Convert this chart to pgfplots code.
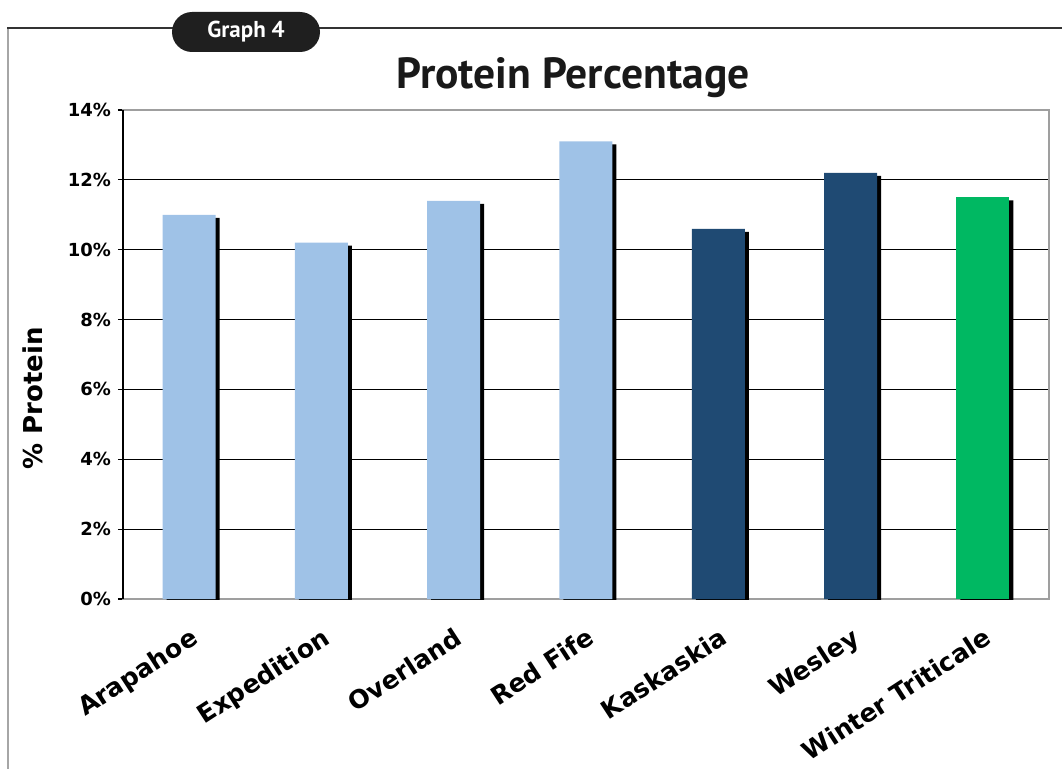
\documentclass[border=0pt]{standalone}
\usepackage{pgfplots}
\pgfplotsset{compat=1.18}
\usepackage{fontspec}
\setmainfont{DejaVu Sans}
\newfontfamily\titlefont{PT Sans}

\definecolor{lightbar}{HTML}{9FC2E7}
\definecolor{darkbar}{HTML}{1F4A73}
\definecolor{greenbar}{HTML}{00B862}

\begin{document}
\begin{tikzpicture}[x=1pt,y=1pt]
\useasboundingbox (0,0) rectangle (531,384);
% frame
\draw[gray!70, line width=0.8pt] (4,-2) -- (4,370);
\draw[black!80, line width=0.6pt] (3.6,370) -- (533,370);
\fill[black!88, rounded corners=10pt] (86,358) rectangle (160,378);
\node[text=white, font=\titlefont\bfseries\fontsize{11.5}{13}\selectfont] at (123,368) {Graph 4};
\node[text=black!90, font=\titlefont\bfseries\fontsize{21.8}{25}\selectfont] at (286.5,345) {Protein Percentage};

\begin{axis}[
    at={(61.5pt,84.5pt)}, anchor=south west,
    scale only axis,
    width=463pt, height=244.5pt,
    xmin=-0.5, xmax=6.5,
    ymin=0, ymax=14,
    ytick={0,2,...,14},
    yticklabel={\pgfmathprintnumber{\tick}\%},
    /pgf/number format/assume math mode=true,
    yticklabel style={font=\bfseries\fontsize{9}{10}\selectfont},
    xtick={0,...,6},
    xticklabels={Arapahoe,Expedition,Overland,Red Fife,Kaskaskia,Wesley,Winter Triticale},
    xticklabel style={font=\bfseries\fontsize{12.6}{14}\selectfont, rotate=33, anchor=north east, inner sep=0pt},
    xticklabel shift=11pt,
    major x tick style={draw=none},
    ytick pos=left, tick align=outside,
    major tick length=2.5pt,
    major y tick style={black, line width=0.6pt},
    ymajorgrids,
    major grid style={black, line width=0.6pt},
    axis line style={draw=gray!75, line width=0.8pt},
    ylabel={\% Protein},
    ylabel style={font=\bfseries\fontsize{13}{15}\selectfont, at={(axis description cs:-0.097,0.41)}, anchor=center},
    bar width=26.5pt,
    after end axis/.code={\draw[black, line width=0.7pt] (rel axis cs:0,0) -- (rel axis cs:0,1);},
]
% shadows
\addplot[ybar, bar shift=2pt, fill=black, draw=none, yshift=-1.5pt] coordinates {
    (0,11.0)(1,10.2)(2,11.4)(3,13.1)(4,10.6)(5,12.2)(6,11.5)};
\addplot[ybar, bar shift=0pt, fill=lightbar, draw=none] coordinates {
    (0,11.0)(1,10.2)(2,11.4)(3,13.1)};
\addplot[ybar, bar shift=0pt, fill=darkbar, draw=none] coordinates {
    (4,10.6)(5,12.2)};
\addplot[ybar, bar shift=0pt, fill=greenbar, draw=none] coordinates {
    (6,11.5)};
\end{axis}
\end{tikzpicture}
\end{document}
